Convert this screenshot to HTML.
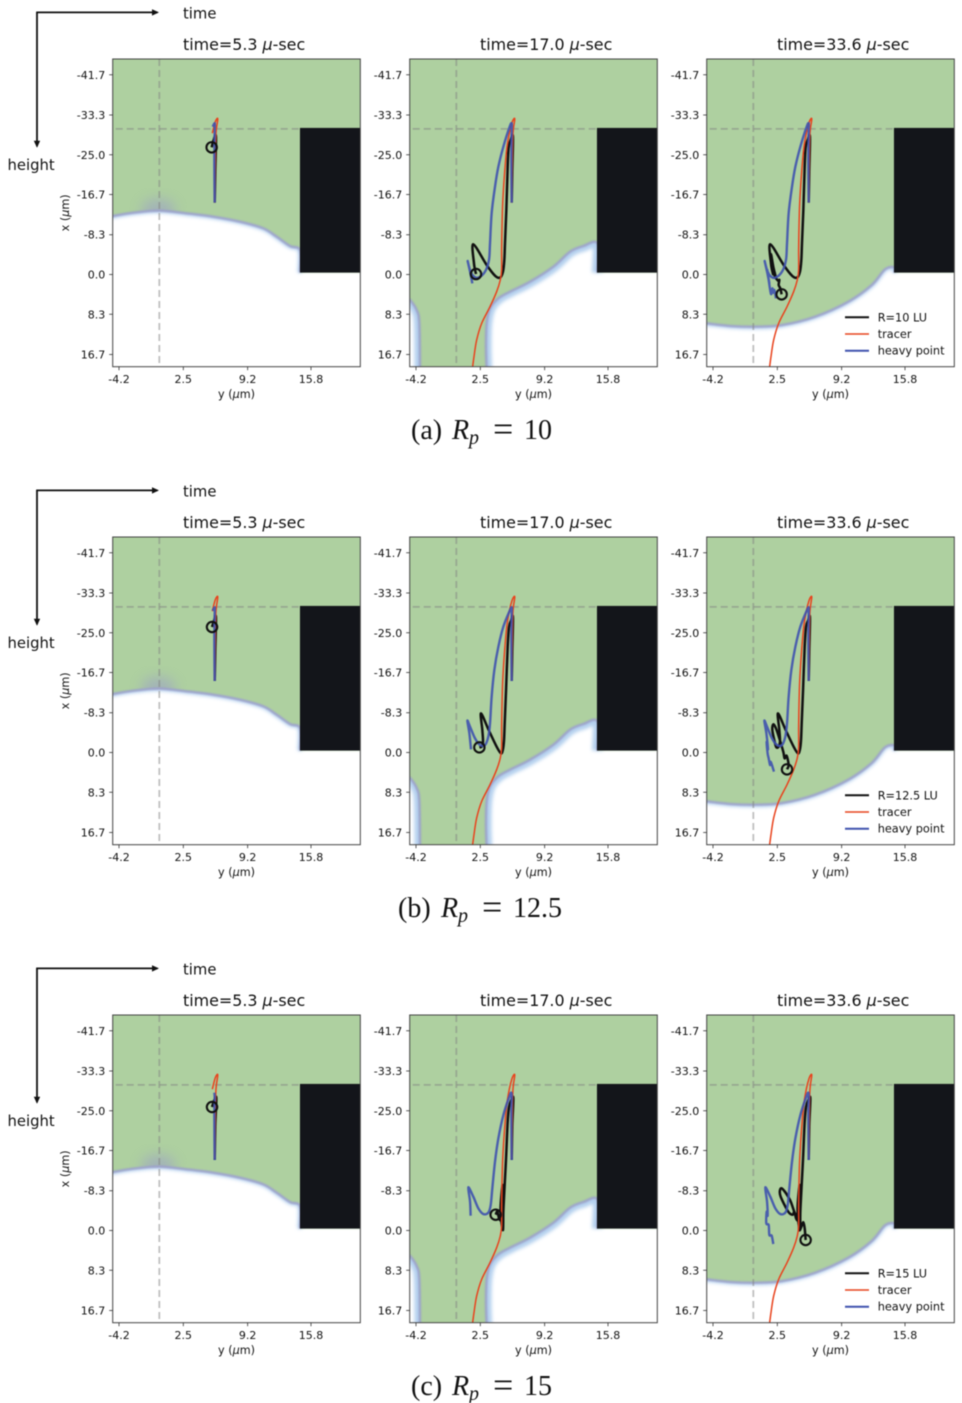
<!DOCTYPE html>
<html lang="en">
<head>
<meta charset="utf-8">
<title>Particle trajectories for three radii</title>
<style>
html,body{margin:0;padding:0;background:#fff;}
svg{display:block;filter:blur(0.4px);}
text{font-family:"DejaVu Sans","Liberation Sans",sans-serif;fill:#111;}
.cap text,text.cap{font-family:"Liberation Serif",serif;font-size:28px;fill:#111;}
</style>
</head>
<body>
<svg id="fig" xmlns="http://www.w3.org/2000/svg" width="962" height="1403" viewBox="0 0 962 1403">
<defs>
<marker id="arrow-head" markerWidth="9" markerHeight="8" refX="5.5" refY="3.2" orient="auto" markerUnits="userSpaceOnUse"><path d="M0,0 L7,3.2 L0,6.4 z" fill="#111"/></marker>
<filter id="blur-wide" x="-20%" y="-20%" width="140%" height="140%"><feGaussianBlur stdDeviation="1.8"/></filter>
<filter id="blur-thin" x="-20%" y="-20%" width="140%" height="140%"><feGaussianBlur stdDeviation="0.8"/></filter>
<filter id="blur-haze" x="-50%" y="-50%" width="200%" height="200%"><feGaussianBlur stdDeviation="6"/></filter>
<clipPath id="plot-clip"><rect x="0" y="0" width="247.6" height="307.7"/></clipPath>
</defs>
<g id="captions" class="cap">
<text y="439"><tspan x="411">(a)</tspan><tspan x="452" font-style="italic">R</tspan><tspan x="469" dy="5" font-size="20" font-style="italic">p</tspan><tspan x="493" dy="-3" font-size="36">=</tspan><tspan x="524" dy="-2">10</tspan></text>
<text y="917"><tspan x="398">(b)</tspan><tspan x="441" font-style="italic">R</tspan><tspan x="458" dy="5" font-size="20" font-style="italic">p</tspan><tspan x="482" dy="-3" font-size="36">=</tspan><tspan x="513" dy="-2">12.5</tspan></text>
<text y="1395"><tspan x="411">(c)</tspan><tspan x="452" font-style="italic">R</tspan><tspan x="469" dy="5" font-size="20" font-style="italic">p</tspan><tspan x="493" dy="-3" font-size="36">=</tspan><tspan x="524" dy="-2">15</tspan></text>
</g>
</svg>
<script>
// ---- chart data (axis units: um) ----
const yTickLabels = ["-41.7","-33.3","-25.0","-16.7","-8.3","0.0","8.3","16.7"];
const yTickValues = [-41.7,-33.3,-25.0,-16.7,-8.3,0,8.3,16.7];
const xTickLabels = ["-4.2","2.5","9.2","15.8"];
const xTickValues = [-4.2,2.5,9.2,15.8];
const panelTimes = ["5.3","17.0","33.6"];
const rowRadiusLabels = ["R=10 LU","R=12.5 LU","R=15 LU"];
const legendLabels = ["tracer","heavy point"];
const wallVerticalY = 0;
const wallHorizontalX = -30.4;
const obstacleLeftY = 14.65;
const obstacleTopX = -30.6;
const obstacleBottomX = -0.4;

const tracerPath = [[5.77,-15.0],[5.83,-23.9],[5.90,-29.5],[6.08,-32.25],[6.01,-32.53],[5.80,-31.7],[5.52,-29.5],[5.24,-26.0],[5.0,-20.4],[4.83,-14.85],[4.76,-9.98],[4.72,-5.1],[4.72,-0.94],[4.58,1.15],[4.2,3.59],[3.51,6.72],[2.64,10.2],[2.12,13.67],[1.84,17.16],[1.70,19.24]];

const blackR10 = [[5.77,-15.0],[5.83,-21.81],[5.90,-28.77],[5.66,-28.08],[5.45,-26.55],[5.35,-22.51],[5.21,-13.46],[5.07,-6.5],[5.0,-3.02],[4.86,-0.59],[4.55,0.66],[4.03,0.25],[3.16,-1.98],[1.77,-6.3],[1.84,-2.33],[2.05,-0.1],[2.01,-0.94],[2.36,0.8],[2.08,-1.63],[1.84,-4.28],[1.91,-1.63],[2.22,0.25],[2.57,1.29],[2.71,1.15],[2.64,2.19],[2.81,2.89],[2.95,4.14]];
const blueR10 = [[5.77,-15.0],[5.73,-23.9],[5.77,-30.16],[5.77,-31.56],[5.56,-30.86],[4.9,-26.69],[4.38,-22.51],[4.03,-18.33],[3.68,-12.77],[3.51,-6.5],[3.4,-3.02],[2.99,-0.59],[2.29,0.66],[1.77,0.31],[1.43,-0.94],[1.18,-2.82],[1.43,-0.59],[1.67,1.85],[1.53,0.1],[1.46,-0.94],[1.6,1.15],[1.84,4.07],[1.98,2.89],[2.08,3.8],[2.19,3.24],[2.36,4.98]];

const blackR125 = [[5.77,-14.92],[5.83,-21.39],[5.9,-28.21],[5.7,-27.52],[5.49,-26.2],[5.35,-22.09],[5.18,-13.04],[5.04,-6.08],[4.97,-2.6],[4.86,-0.66],[4.65,0.18],[4.2,-1.21],[3.37,-4.69],[2.57,-8.17],[2.71,-4.69],[2.78,-2.26],[2.64,-1.21],[2.4,-1.07],[2.22,-2.26],[1.98,-4.69],[2.08,-5.88],[2.36,-5.04],[2.71,-2.95],[3.12,-0.17],[3.26,1.22],[3.47,0.67],[3.68,2.61],[3.51,3.52]];
const blueR125 = [[5.77,-14.92],[5.73,-23.48],[5.77,-29.05],[5.77,-30.3],[5.56,-29.6],[4.9,-26.27],[4.38,-22.09],[3.96,-17.22],[3.68,-11.65],[3.51,-6.08],[3.33,-3.3],[2.99,-1.56],[2.47,-1.56],[1.95,-2.95],[1.43,-5.39],[1.15,-6.64],[1.36,-4.0],[1.53,-0.66],[1.39,-2.26],[1.49,0.18],[1.6,1.22],[1.74,2.61],[1.8,1.92],[1.94,2.61],[2.15,4.0]];

const blackR15 = [[5.77,-14.72],[5.83,-22.02],[5.94,-27.59],[5.73,-27.24],[5.49,-25.78],[5.35,-22.72],[5.18,-15.06],[5.0,-8.11],[4.9,-3.93],[4.86,-0.1],[4.65,-2.54],[4.62,-5.32],[4.83,-9.5],[4.9,-4.63],[4.76,-2.19],[4.48,-2.4],[4.27,-3.93],[4.1,-3.3],[3.64,-3.93],[2.85,-7.06],[2.78,-8.45],[3.05,-8.66],[3.82,-6.37],[4.34,-3.58],[4.69,-3.23],[4.79,-0.1],[5.07,-1.15],[5.21,-1.7],[5.35,-0.45],[5.45,1.98]];
const blueR15 = [[5.77,-14.72],[5.73,-24.11],[5.77,-27.59],[5.73,-28.77],[5.52,-27.94],[4.9,-24.11],[4.38,-19.24],[4.03,-14.37],[3.75,-8.8],[3.58,-5.32],[3.33,-3.72],[2.81,-3.44],[2.29,-4.63],[1.77,-7.06],[1.25,-9.01],[1.43,-6.02],[1.49,-3.1],[1.39,-3.93],[1.35,-1.5],[1.6,-1.15],[1.67,0.94],[1.91,1.08],[2.08,2.82]];

// number of samples of each path reached at each of the three times
const blackSteps = [[5,16,27],[5,18,28],[5,18,30]];
const blueSteps = [[5,18,26],[5,18,25],[4,17,23]];
const tracerSteps = [7,20,20];

// fluid interface per time frame (right to left)
const interfaceEarly = [[14.65,-0.4],[14.65,-5.1],[13.61,-5.95],[12.22,-7.9],[10.83,-9.64],[8.4,-11.03],[5.62,-12.08],[2.84,-12.77],[-0.04,-13.33],[-2.71,-12.91],[-5.2,-12.1]];
const interfaceMidRight = [[14.69,-0.38],[14.69,-6.5],[13.23,-5.95],[11.84,-4.76],[10.11,-1.63],[7.68,1.5],[5.59,3.59],[4.38,4.98],[3.51,7.07],[3.16,10.2],[3.09,15.07],[3.16,20]];
const interfaceMidLeft = [[-3.78,20],[-3.85,10.2],[-4.13,7.42],[-4.82,5.33],[-5.3,4.8]];
const interfaceLate = [[14.69,-0.38],[14.69,-1.49],[13.72,-1.08],[12.33,2.2],[9.9,5.67],[6.43,8.81],[2.95,10.55],[0.18,10.89],[-2.26,10.76],[-4.83,10.2],[-5.3,10.1]];

// ---- axis functions (panel-local pixels) ----
function sx(y){ return 6.3 + (y + 4.2) * 9.6; }
function sy(x){ return 215.5 + x * 4.79; }

const NS = "http://www.w3.org/2000/svg";
const fig = document.getElementById("fig");
const PW = 247.6, PH = 307.7;
const colLeft = [112.7, 409.7, 706.7];
const rowTop = [59, 537, 1015];
const INK = "#111", TRACER = "#e8431d", HEAVY = "#3f52ae", GREEN = "#aed0a0";
const blackByRow = [blackR10, blackR125, blackR15];
const blueByRow = [blueR10, blueR125, blueR15];
const rowTag = ["a","b","c"];

function make(tag, parent, attrs, text){
  const n = document.createElementNS(NS, tag);
  for (const k in attrs) n.setAttribute(k, attrs[k]);
  if (text !== undefined) n.textContent = text;
  parent.appendChild(n);
  return n;
}
function smooth(pts){
  const p = pts.map(function(q){ return [sx(q[0]), sy(q[1])]; });
  let d = "M" + p[0][0].toFixed(2) + "," + p[0][1].toFixed(2);
  for (let i = 0; i < p.length - 1; i++){
    const a = p[Math.max(i-1,0)], b = p[i], c = p[i+1], e = p[Math.min(i+2,p.length-1)];
    const c1x = b[0] + (c[0]-a[0])/6, c1y = b[1] + (c[1]-a[1])/6;
    const c2x = c[0] - (e[0]-b[0])/6, c2y = c[1] - (e[1]-b[1])/6;
    d += "C" + c1x.toFixed(2) + "," + c1y.toFixed(2) + " " + c2x.toFixed(2) + "," + c2y.toFixed(2) + " " + c[0].toFixed(2) + "," + c[1].toFixed(2);
  }
  return d;
}

function drawEdge(parent, pts, wide){
  const halo = make("path", parent, {d: smooth(pts), fill:"none", stroke:"#b4d0ee", "stroke-width":wide, filter:"url(#blur-wide)"});
  
  
  return halo;
}

function drawPanel(r, c){
  const g = make("g", fig, {transform:"translate(" + colLeft[c] + "," + rowTop[r] + ")"});
  
  

  const title = make("text", g, {x: 70.3 , y: -9, "font-size":"15.9"});
  
  
  make("tspan", title, {}, "time=" + panelTimes[c] + " ");
  make("tspan", title, {"font-style":"italic"}, "\u03bc");
  make("tspan", title, {}, "-sec");

  const plot = make("g", g, {"clip-path":"url(#plot-clip)"});
  
  
  make("rect", plot, {x:0, y:0, width:PW, height:PH, fill:"#fff"});

  const edges = c === 0 ? [interfaceEarly] : c === 1 ? [interfaceMidRight, interfaceMidLeft] : [interfaceLate];
  const wide = c === 1 ? 11 : 5;
  edges.forEach(function(e){ drawEdge(plot, e, wide); });

  let d = "M-10,-10L" + (PW+10) + ",-10L" + (PW+10) + "," + sy(obstacleBottomX) + "L";
  edges.forEach(function(e){
    d += smooth(e).slice(1) + "L";
  });
  d += "-10," + sy(edges[edges.length-1][edges[edges.length-1].length-1][1]) + "Z";
  const green = make("path", plot, {d:d, fill:GREEN, filter:"url(#blur-thin)"});
  
  

  edges.forEach(function(e){
    const rim = make("path", plot, {d:smooth(e), fill:"none", stroke:"#9a9ccb", "stroke-width":"2.4", opacity:"0.85", filter:"url(#blur-thin)"});
    
    
  });

  if (c === 0){
    const clipId = "haze-clip-" + r;
    const cp = make("clipPath", plot, {id:clipId});
    make("path", cp, {d:d});
    const hazeWrap = make("g", plot, {"clip-path":"url(#" + clipId + ")"});
    const haze = make("ellipse", hazeWrap, {cx:sx(-0.1), cy:sy(-13.5), rx:17, ry:11, fill:"#9a9ccb", opacity:"0.55", filter:"url(#blur-haze)"});
    
    
  }

  const block = make("rect", plot, {x:sx(obstacleLeftY), y:sy(obstacleTopX), width:PW - sx(obstacleLeftY) + 2, height:sy(obstacleBottomX)-sy(obstacleTopX), fill:"#13151a"});
  
  

  const dashV = make("line", plot, {x1:sx(wallVerticalY), x2:sx(wallVerticalY), y1:0, y2:PH, stroke:"#808080", "stroke-opacity":"0.5", "stroke-width":"1.8", "stroke-dasharray":"7 4"});
  
  
  const dashH = make("line", plot, {x1:3, x2:sx(obstacleLeftY), y1:sy(wallHorizontalX), y2:sy(wallHorizontalX), stroke:"#808080", "stroke-opacity":"0.5", "stroke-width":"1.8", "stroke-dasharray":"7 4"});
  
  

  const blackPts = blackByRow[r].slice(0, blackSteps[r][c]);
  const bluePts = blueByRow[r].slice(0, blueSteps[r][c]);
  const tracerPts = tracerPath.slice(0, tracerSteps[c]);

  const blackLine = make("path", plot, {d:smooth(blackPts), fill:"none", stroke:INK, "stroke-width":"2.5", "stroke-linejoin":"round"});
  
  
  const tracerLine = make("path", plot, {d:smooth(tracerPts), fill:"none", stroke:TRACER, "stroke-width":"1.5"});
  
  
  const blueLine = make("path", plot, {d:smooth(bluePts), fill:"none", stroke:HEAVY, "stroke-width":"2.4", "stroke-opacity":"0.9", "stroke-linejoin":"round"});
  
  

  const last = blackPts[blackPts.length-1];
  const marker = make("circle", plot, {cx:sx(last[0]), cy:sy(last[1]), r:"5.2", fill:"none", stroke:INK, "stroke-width":"2.1"});
  
  

  const frame = make("rect", g, {x:0, y:0, width:PW, height:PH, fill:"none", stroke:"#444", "stroke-width":"1"});
  
  

  yTickValues.forEach(function(v, i){
    const t = make("line", g, {x1:-3.5, x2:0, y1:sy(v), y2:sy(v), stroke:"#333", "stroke-width":"0.8"});
    
    
    const l = make("text", g, {x:-7.5, y:sy(v)+4, "font-size":"11", "text-anchor":"end"}, yTickLabels[i]);
    
    
  });
  xTickValues.forEach(function(v, i){
    const t = make("line", g, {x1:sx(v), x2:sx(v), y1:PH, y2:PH+3.5, stroke:"#333", "stroke-width":"0.8"});
    
    
    const l = make("text", g, {x:sx(v), y:PH+16.5, "font-size":"11", "text-anchor":"middle"}, xTickLabels[i]);
    
    
  });

  const xTitle = make("text", g, {x:PW/2, y:PH+31.5, "font-size":"11.2", "text-anchor":"middle"});
  
  
  make("tspan", xTitle, {}, "y (");
  make("tspan", xTitle, {"font-style":"italic"}, "\u03bc");
  make("tspan", xTitle, {}, "m)");

  if (c === 0){
    const yTitle = make("text", g, {transform:"translate(-43.5," + (PH/2) + ") rotate(-90)", "font-size":"11.2", "text-anchor":"middle"});
    
    
    make("tspan", yTitle, {}, "x (");
    make("tspan", yTitle, {"font-style":"italic"}, "\u03bc");
    make("tspan", yTitle, {}, "m)");
  }

  if (c === 2){
    const legend = make("g", g, {});
    
    
    const entries = [rowRadiusLabels[r]].concat(legendLabels);
    const cols = [INK, TRACER, HEAVY];
    const widths = ["2", "1.4", "2"];
    entries.forEach(function(label, i){
      const ly = 258.3 + i * 16.7;
      const sw = make("line", legend, {x1:138.3, x2:162.3, y1:ly, y2:ly, stroke:cols[i], "stroke-width":widths[i]});
      
      
      const tx = make("text", legend, {x:171, y:ly+4, "font-size":"11.3"}, label);
      
      
    });
  }
}

function drawFlowArrows(r){
  const top = rowTop[r] - 59;
  const g = make("g", fig, {transform:"translate(0," + top + ")"});
  
  
  const h = make("line", g, {x1:36.2, y1:12.4, x2:157.5, y2:12.4, stroke:INK, "stroke-width":"1.8", "marker-end":"url(#arrow-head)"});
  
  
  const v = make("line", g, {x1:37, y1:12.4, x2:37, y2:146.2, stroke:INK, "stroke-width":"1.8", "marker-end":"url(#arrow-head)"});
  
  
  const tt = make("text", g, {x:183, y:18.5, "font-size":"14.8"}, "time");
  
  
  const ht = make("text", g, {x:7.5, y:170, "font-size":"14.8"}, "height");
  
  
}

for (let r = 0; r < 3; r++){
  drawFlowArrows(r);
  for (let c = 0; c < 3; c++) drawPanel(r, c);
}
</script>
</body>
</html>
